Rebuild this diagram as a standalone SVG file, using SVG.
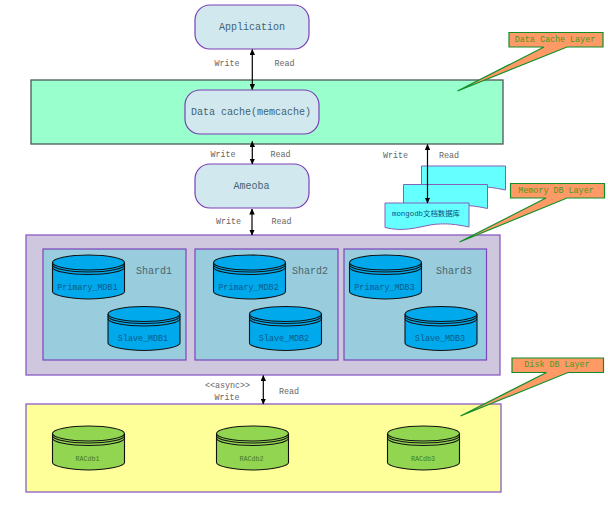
<svg xmlns="http://www.w3.org/2000/svg" width="608" height="507" viewBox="0 0 608 507">
<style>
text{font-family:"Liberation Mono","Noto Sans CJK SC",monospace;text-anchor:middle}
.rr{fill:#d2e8ef;stroke:#7a3fb5;stroke-width:1.2}
.rr-t{font-size:10px;fill:#3f6272}
.lbl{font-size:8.4px;fill:#666}
.layer{stroke-width:1.3}
.shard{fill:#99cddd;stroke:#7b45bd;stroke-width:1.2}
.shard-t{font-size:10px;fill:#4a6470}
.db-t{font-size:8.4px;fill:#0b5a8a}
.rac-t{font-size:6.7px;fill:#3f7a2c}
.blue{fill:#00a9ec}
.grn{fill:#92d550}
.cyl{stroke:#111;stroke-width:1.1}
.call{fill:#ff9966;stroke:#11902a;stroke-width:1.2}
.call-t{font-size:8.4px;fill:#4a9a20}
.doc{fill:#66ffff;stroke:#8560b8;stroke-width:1}
.conn{stroke:#000;stroke-width:1.2;fill:none;marker-start:url(#ah);marker-end:url(#ah)}
</style>
<defs>
<marker id="ah" viewBox="0 0 6 5.500" refX="5.500" refY="2.750" markerWidth="6" markerHeight="5.500" markerUnits="userSpaceOnUse" orient="auto-start-reverse"><path d="M0 0L6 2.750L0 5.500Z" fill="#000"/></marker>
<g id="cyl" class="cyl">
<path d="M0 7.500V36.500C0 40 16 44 36 44S72 40 72 36.500V7.500"/>
<ellipse cx="36" cy="7.500" rx="36" ry="7.500"/>
<path d="M0 9.700C0 13.500 16 17 36 17S72 13.500 72 9.700" fill="none"/>
<path d="M0 12.200C0 16 16 19.500 36 19.500S72 16 72 12.200" fill="none"/>
</g>
<path id="doc" d="M0 0H84V24C72 21.500 60 19.500 45 22C32 24.500 18 29 0 24.500Z"/>
</defs>

<g id="layer-cache"><rect class="layer" x="31" y="80" width="472" height="64" fill="#99ffcc" stroke="#4a5a55"/></g>
<g id="layer-memory"><rect class="layer" x="26" y="235" width="474" height="140" fill="#cfc7de" stroke="#8a5cc2"/></g>
<g id="layer-disk"><rect class="layer" x="26" y="404" width="475" height="88" fill="#ffff99" stroke="#8a5cc2"/></g>

<g id="application"><rect class="rr" x="195" y="5" width="114" height="44" rx="15"/><text class="rr-t" x="252" y="29.500">Application</text></g>
<g id="data-cache"><rect class="rr" x="185" y="90" width="134" height="44" rx="15"/><text class="rr-t" x="251" y="114.500">Data cache(memcache)</text></g>
<g id="ameoba"><rect class="rr" x="195" y="164" width="114" height="44" rx="15"/><text class="rr-t" x="251.500" y="189">Ameoba</text></g>

<g id="mongodb">
<use href="#doc" class="doc" x="421.500" y="166"/>
<use href="#doc" class="doc" x="403.500" y="184.500"/>
<use href="#doc" class="doc" x="385" y="203"/>
<text x="426" y="216" style="font-size:7.400px;fill:#0b4f7a">mongodb文档数据库</text>
</g>

<g id="shard1"><rect class="shard" x="43" y="249" width="143" height="111"/><text class="shard-t" x="154" y="274">Shard1</text></g>
<g id="shard2"><rect class="shard" x="195" y="249" width="143" height="111"/><text class="shard-t" x="310" y="274">Shard2</text></g>
<g id="shard3"><rect class="shard" x="344" y="249" width="142.500" height="111"/><text class="shard-t" x="454" y="274">Shard3</text></g>

<g id="primary1"><use href="#cyl" class="blue" x="52.500" y="255"/><text class="db-t" x="87.500" y="290">Primary_MDB1</text></g>
<g id="slave1"><use href="#cyl" class="blue" x="108" y="306.500"/><text class="db-t" x="143" y="341">Slave_MDB1</text></g>
<g id="primary2"><use href="#cyl" class="blue" x="213.500" y="255"/><text class="db-t" x="248.500" y="290">Primary_MDB2</text></g>
<g id="slave2"><use href="#cyl" class="blue" x="249.500" y="306.500"/><text class="db-t" x="284" y="341">Slave_MDB2</text></g>
<g id="primary3"><use href="#cyl" class="blue" x="349.500" y="255"/><text class="db-t" x="384.500" y="290">Primary_MDB3</text></g>
<g id="slave3"><use href="#cyl" class="blue" x="405" y="306.500"/><text class="db-t" x="440" y="341">Slave_MDB3</text></g>

<g id="racdb1"><use href="#cyl" class="grn" x="52.500" y="426"/><text class="rac-t" x="87.500" y="461">RACdb1</text></g>
<g id="racdb2"><use href="#cyl" class="grn" x="216.500" y="426"/><text class="rac-t" x="251.500" y="461">RACdb2</text></g>
<g id="racdb3"><use href="#cyl" class="grn" x="387.500" y="426"/><text class="rac-t" x="423" y="461">RACdb3</text></g>

<g id="callout-cache"><path class="call" d="M509 32.500H603V47H567L457.500 91L544 47H509Z"/><text class="call-t" x="555" y="42">Data Cache Layer</text></g>
<g id="callout-memory"><path class="call" d="M510.500 183.500H604.500V198H567L459.500 242L546 198H510.500Z"/><text class="call-t" x="556" y="193">Memory DB Layer</text></g>
<g id="callout-disk"><path class="call" d="M512 358H603.500V372.500H568L460.500 416L546.500 372.500H512Z"/><text class="call-t" x="557" y="367">Disk DB Layer</text></g>

<g id="connectors">
<path class="conn" d="M252.300 49.500V89.500"/>
<path class="conn" d="M252.300 141.500V164"/>
<path class="conn" d="M252 209V235"/>
<path class="conn" d="M427.500 144.500V203"/>
<path class="conn" d="M263.300 375.500V404"/>
</g>
<g id="connector-labels">
<text class="lbl" x="227" y="66">Write</text><text class="lbl" x="284.500" y="66">Read</text>
<text class="lbl" x="223" y="157">Write</text><text class="lbl" x="280.500" y="157">Read</text>
<text class="lbl" x="228.500" y="224">Write</text><text class="lbl" x="281.500" y="224">Read</text>
<text class="lbl" x="395.500" y="158">Write</text><text class="lbl" x="449" y="158">Read</text>
<text class="lbl" x="227.500" y="388">&lt;&lt;async&gt;&gt;</text><text class="lbl" x="227" y="400">Write</text><text class="lbl" x="289" y="394">Read</text>
</g>
</svg>
